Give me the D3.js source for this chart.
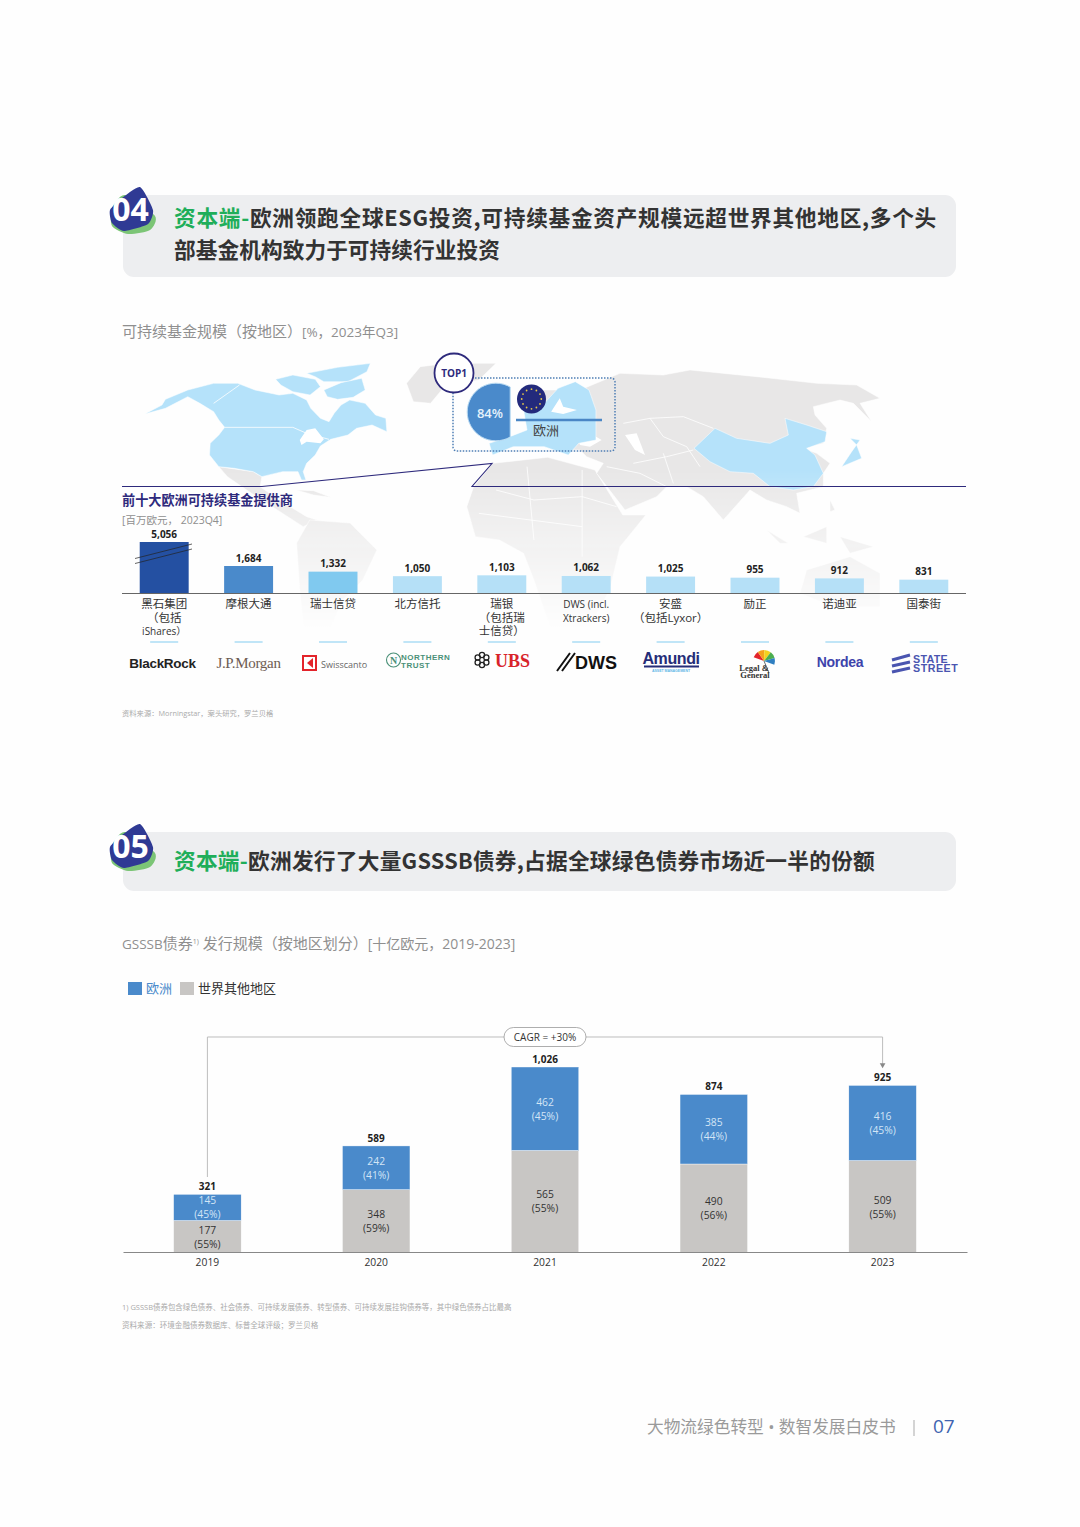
<!DOCTYPE html>
<html>
<head>
<meta charset="utf-8">
<script src="https://cdn.jsdelivr.net/npm/d3@7"></script>
<style>
    body { margin: 0; background: #fff; }
    text { font-family: "Open Sans", "Noto Sans CJK SC", sans-serif; }
</style>
</head>
<body>
<svg width="1080" height="1527"></svg>
<script>
// top chart
var providers = ['黑石集团', '摩根大通', '瑞士信贷', '北方信托', '瑞银', 'DWS', '安盛', '励正', '诺迪亚', '国泰街'];
var providerValues = [5056, 1684, 1332, 1050, 1103, 1062, 1025, 955, 912, 831];
var providerLabels = [
    ['黑石集团', '（包括', 'iShares）'], ['摩根大通'], ['瑞士信贷'], ['北方信托'],
    ['瑞银', '（包括瑞', '士信贷）'], ['DWS (incl.', 'Xtrackers)'], ['安盛', '（包括Lyxor）'],
    ['励正'], ['诺迪亚'], ['国泰街']
];
var providerColors = ['#2450a2', '#4a8acb', '#80c9ef', '#b5e0f7', '#b5e0f7', '#b5e0f7', '#b5e0f7', '#b5e0f7', '#b5e0f7', '#b5e0f7'];

// bottom chart
var years = ['2019', '2020', '2021', '2022', '2023'];
var europe = [145, 242, 462, 385, 416];
var europeShare = ['45%', '41%', '45%', '44%', '45%'];
var restOfWorld = [177, 348, 565, 490, 509];
var restShare = ['55%', '59%', '55%', '56%', '55%'];
var totals = [321, 589, 1026, 874, 925];

// map outlines in map units
var northAmerica = [[130,222],[180,195],[190,178],[255,150],[330,130],[400,130],[450,150],[520,165],[560,160],[600,180],[612,205],[640,235],[665,245],[680,220],[700,195],[725,180],[770,190],[800,225],[830,235],[833,275],[790,255],[745,265],[720,285],[670,298],[640,318],[625,345],[600,370],[590,395],[598,420],[585,420],[575,395],[530,395],[470,410],[445,395],[390,385],[345,380],[318,345],[320,310],[345,285],[362,262],[345,240],[330,215],[290,190],[255,170],[190,205]];
var arcticIslands = [
    [[510,118],[560,105],[625,118],[640,140],[610,165],[560,155],[525,135]],
    [[600,100],[690,82],[785,70],[775,95],[720,125],[650,125],[625,110]],
    [[650,150],[700,128],[760,115],[770,150],[735,172],[690,178],[660,170]]
];
var greatLakes = [[580,300],[600,270],[625,265],[650,298],[640,310],[600,305],[585,315]];
var mexico = [[345,380],[445,395],[470,410],[465,440],[520,480],[600,530],[630,540],[590,560],[500,500],[440,460],[370,410]];
var greenland = [[890,130],[930,80],[1010,70],[1150,70],[1100,120],[1000,140],[960,190],[910,185]];
var europeLand = [[1130,310],[1190,290],[1240,270],[1230,210],[1290,190],[1330,145],[1380,125],[1420,150],[1440,210],[1440,300],[1390,310],[1360,345],[1290,320],[1200,320],[1140,345]];
var baltic = [[1310,215],[1335,175],[1345,200],[1385,210],[1345,222]];
var africa = [[1085,440],[1140,370],[1300,352],[1437,390],[1518,525],[1585,525],[1545,576],[1510,620],[1480,750],[1400,900],[1320,900],[1260,720],[1230,640],[1160,600],[1090,590],[1065,500]];
var southAmerica = [[571,609],[609,540],[726,549],[804,630],[763,720],[705,780],[653,900],[595,900],[580,750]];
var cuba = [[570,450],[620,452],[670,472],[620,465]];
var eurasia = [[120,150],[240,100],[370,105],[450,90],[650,110],[830,130],[950,135],[1020,175],[960,190],[995,245],[940,190],[900,180],[820,200],[825,225],[860,265],[850,310],[790,325],[830,340],[870,370],[850,400],[850,440],[770,460],[780,520],[740,500],[680,480],[630,450],[550,540],[490,470],[440,440],[380,440],[350,470],[255,510],[170,400],[190,370],[140,350],[120,330],[60,330],[0,300],[0,150]];
var blackSea = [[115,295],[150,280],[185,300],[150,320],[120,315]];
var caspian = [[255,285],[290,280],[315,345],[285,330]];
var china = [[462,325],[525,265],[590,295],[690,310],[745,285],[735,235],[800,255],[860,275],[855,305],[800,325],[825,345],[850,400],[820,440],[760,450],[690,440],[640,400],[570,395],[510,365]];
var japan = [[905,380],[965,355],[950,315],[930,295],[960,300],[935,335]];
var islandsEast = [
    [[870,480],[885,510],[870,515]], [[680,570],[745,610],[720,610]], [[790,590],[860,560],[860,610]],
    [[900,590],[1000,620],[930,640]], [[800,690],[930,650],[1020,700],[1020,800],[880,800],[780,760]]
];
var landBorders = [
    [[1150,450],[1260,480],[1400,470],[1500,500]], [[1240,380],[1260,600]], [[1400,390],[1400,650]],
    [[1100,520],[1400,560]], [[362,262],[560,262],[600,280],[665,298]], [[330,190],[405,135]]
];
var asiaBorders = [
    [[330,235],[430,230],[520,265]], [[250,250],[330,235],[370,290],[440,320]], [[370,340],[400,430]],
    [[440,320],[480,380]], [[280,370],[380,350],[460,330]], [[200,380],[300,400],[380,440]]
];

var svg = d3.select('svg');
var NAVY = '#2e2a7c', GREY = '#8f8f8f', DARK = '#333';

svg.append('rect').attr('width', 1080).attr('height', 1527).attr('fill', '#fefefe');

// section header with the round number badge
function header(y, h, number, lines) {
    var g = svg.append('g');
    g.append('rect').attr('x', 123).attr('y', y).attr('width', 833).attr('height', h).attr('rx', 11).attr('fill', '#edeef0');
    var by = y + 15;
    g.append('path').attr('fill', '#7cc576')
        .attr('d', d3.line().curve(d3.curveCardinalClosed.tension(0.3))([[112, by - 2], [125, by - 15], [155, by + 6], [150, by + 20], [128, by + 24], [112, by + 16]]));
    g.append('path').attr('fill', '#2f3a94')
        .attr('d', d3.line().curve(d3.curveCardinalClosed.tension(0.4))([[110, by], [122, by - 12], [140, by - 23], [153, by], [148, by + 14], [124, by + 21], [112, by + 13]]));
    g.append('text').attr('x', 130.5).attr('y', by + 11).attr('text-anchor', 'middle')
        .attr('font-size', 32).attr('font-weight', 700).attr('fill', '#fff').text(number);
    lines.forEach(function(l, i) {
        var t = g.append('text').attr('x', 174).attr('y', y + 31 + i * 32 + (lines.length == 1 ? 6 : 0))
            .attr('font-size', 21.7).attr('font-weight', 700).attr('fill', '#333')
            .style('font-family', '"Noto Sans CJK SC"');
        if (i == 0) t.append('tspan').attr('fill', '#1fae5a').text('资本端-');
        t.append('tspan').text(i == 0 ? l.text.replace('资本端-', '') : l.text);
        // narrow commas in the original, so share the spare room over the line
        var spare = l.width - t.node().getComputedTextLength();
        t.attr('letter-spacing', spare / l.text.length);
    });
}
header(195, 82, '04', [{text: '资本端-欧洲领跑全球ESG投资,可持续基金资产规模远超世界其他地区,多个头', width: 763}, {text: '部基金机构致力于可持续行业投资', width: 326}]);
header(832, 59, '05', [{text: '资本端-欧洲发行了大量GSSSB债券,占据全球绿色债券市场近一半的份额', width: 701}]);

var sub1 = svg.append('text').attr('x', 122).attr('y', 337).attr('font-size', 15).attr('fill', GREY);
sub1.append('tspan').text('可持续基金规模（按地区）');
sub1.append('tspan').attr('font-size', 13.5).text('[%，2023年Q3]');

// ---------------- world map
var defs = svg.append('defs');
var fade = defs.append('linearGradient').attr('id', 'fade')
    .attr('gradientUnits', 'userSpaceOnUse').attr('x1', 0).attr('x2', 0).attr('y1', 470).attr('y2', 630);
fade.append('stop').attr('offset', 0).attr('stop-color', '#fff');
fade.append('stop').attr('offset', 0.45).attr('stop-color', '#888');
fade.append('stop').attr('offset', 1).attr('stop-color', '#000');
defs.append('mask').attr('id', 'mapFade').attr('maskUnits', 'userSpaceOnUse')
    .attr('x', 0).attr('y', 0).attr('width', 1080).attr('height', 1527)
    .append('rect').attr('width', 1080).attr('height', 700).attr('fill', 'url(#fade)');

var westX = d3.scaleLinear().domain([0, 1568]).range([100, 640]);
var eastX = d3.scaleLinear().domain([0, 1320]).range([540, 980]);
var mapY = d3.scaleLinear().domain([0, 600]).range([340, 540]);
var westLine = d3.line().x(d => westX(d[0])).y(d => mapY(d[1]));
var eastLine = d3.line().x(d => eastX(d[0])).y(d => mapY(d[1]));

var map = svg.append('g').attr('mask', 'url(#mapFade)');
var LAND = '#e8e7e7', BLUE_LAND = '#b5e2fa';
function land(line, pts, color) {
    map.append('path').attr('d', line(pts) + 'Z').attr('fill', color).attr('stroke', color == '#fff' ? 'none' : '#fff').attr('stroke-width', 0.5);
}
land(westLine, greenland, LAND);
land(westLine, mexico, LAND);
land(westLine, cuba, LAND);
land(westLine, southAmerica, LAND);
land(westLine, africa, LAND);
land(eastLine, eurasia, LAND);
islandsEast.forEach(d => land(eastLine, d, LAND));
land(eastLine, blackSea, '#fff');
land(eastLine, caspian, '#fff');
land(westLine, northAmerica, BLUE_LAND);
arcticIslands.forEach(d => land(westLine, d, BLUE_LAND));
land(westLine, greatLakes, '#fff');
land(westLine, europeLand, BLUE_LAND);
land(westLine, baltic, '#fff');
land(eastLine, china, BLUE_LAND);
land(eastLine, japan, BLUE_LAND);
landBorders.forEach(d => map.append('path').attr('d', westLine(d)).attr('fill', 'none').attr('stroke', '#fff').attr('stroke-width', 0.8));
asiaBorders.forEach(d => map.append('path').attr('d', eastLine(d)).attr('fill', 'none').attr('stroke', '#fff').attr('stroke-width', 0.8));

// europe callout
svg.append('rect').attr('x', 453).attr('y', 378).attr('width', 162).attr('height', 73).attr('rx', 4)
    .attr('fill', 'none').attr('stroke', '#4f7fb5').attr('stroke-width', 1.5).attr('stroke-dasharray', '1.5 1.5');
var seg = d3.path();
seg.arc(496, 412, 28.8, -1.055, 1.055, true);
seg.closePath();
svg.append('path').attr('d', seg.toString()).attr('fill', '#4a8acb').attr('stroke', '#bcdcf3').attr('stroke-width', 1);
svg.append('text').attr('x', 490).attr('y', 418).attr('text-anchor', 'middle').attr('font-size', 13).attr('font-weight', 600).attr('fill', '#e6f2fb').text('84%');
svg.append('circle').attr('cx', 531.5).attr('cy', 399).attr('r', 14.5).attr('fill', '#232a7c');
d3.range(12).forEach(function(i) {
    var a = i * Math.PI / 6;
    svg.append('circle').attr('cx', 531.5 + 9.8 * Math.cos(a)).attr('cy', 399 + 9.8 * Math.sin(a)).attr('r', 0.9).attr('fill', '#e6c84a');
});
svg.append('line').attr('x1', 516).attr('x2', 602).attr('y1', 420).attr('y2', 420).attr('stroke', '#4a86c5').attr('stroke-width', 2.5);
svg.append('text').attr('x', 546).attr('y', 435).attr('text-anchor', 'middle').attr('font-size', 13).attr('fill', '#444').text('欧洲');
svg.append('circle').attr('cx', 454).attr('cy', 373).attr('r', 19.5).attr('fill', '#fff').attr('stroke', NAVY).attr('stroke-width', 1.8);
svg.append('text').attr('x', 454).attr('y', 377).attr('text-anchor', 'middle').attr('font-size', 10).attr('font-weight', 700).attr('fill', NAVY).text('TOP1');

svg.append('path').attr('d', 'M122,486.5H262L492,463.5L472,486.5H966').attr('fill', 'none').attr('stroke', NAVY).attr('stroke-width', 1.1);
svg.append('text').attr('x', 122).attr('y', 505).attr('font-size', 13.15).attr('font-weight', 700).attr('fill', NAVY).text('前十大欧洲可持续基金提供商');
svg.append('text').attr('x', 122).attr('y', 524).attr('font-size', 10.5).attr('fill', GREY).text('[百万欧元， 2023Q4]');

// ---------------- provider bars (first bar sits on a broken axis)
var xProv = d3.scaleBand().domain(providers).range([122, 966]).paddingInner(0.42).paddingOuter(0.21);
var yProv = d3.scaleLinear().domain([0, 1684, 5056]).range([593, 566, 542]);

svg.append('g').selectAll('rect').data(providerValues).join('rect')
    .attr('x', (d, i) => xProv(providers[i]))
    .attr('y', d => yProv(d))
    .attr('width', xProv.bandwidth())
    .attr('height', d => yProv(0) - yProv(d))
    .attr('fill', (d, i) => providerColors[i]);

svg.append('g').selectAll('text').data(providerValues).join('text')
    .attr('x', (d, i) => xProv(providers[i]) + xProv.bandwidth() / 2)
    .attr('y', d => yProv(d) - 4.5)
    .attr('text-anchor', 'middle').attr('font-size', 10).attr('font-weight', 700).attr('fill', '#222')
    .text(d => d3.format(',')(d));

svg.append('line').attr('x1', 122).attr('x2', 966).attr('y1', 593.5).attr('y2', 593.5).attr('stroke', '#666').attr('stroke-width', 1);

[0, 5].forEach(function(off) {
    svg.append('line').attr('x1', 135).attr('x2', 192).attr('y1', 558.5 + off).attr('y2', 544 + off).attr('stroke', '#222').attr('stroke-width', 0.7);
});

providers.forEach(function(p, i) {
    var cx = xProv(p) + xProv.bandwidth() / 2;
    providerLabels[i].forEach(function(line, j) {
        svg.append('text').attr('x', cx).attr('y', 608 + j * 13.7).attr('text-anchor', 'middle')
            .attr('font-size', /^[A-Za-z]/.test(line) ? 10 : 11.5).attr('fill', '#333').text(line);
    });
    svg.append('line').attr('x1', cx - 14).attr('x2', cx + 14).attr('y1', 642).attr('y2', 642).attr('stroke', '#95d3f1').attr('stroke-width', 1.2);
});

// logos, set as type
var logo = svg.append('g');
function logoText(x, y, str, size, color, weight, family, anchor, spacing) {
    return logo.append('text').attr('x', x).attr('y', y).attr('font-size', size).attr('fill', color)
        .attr('font-weight', weight || 400).attr('text-anchor', anchor || 'start')
        .style('font-family', family || 'Liberation Sans').attr('letter-spacing', spacing || 0).text(str);
}
logoText(162.5, 668, 'BlackRock', 13.5, '#222', 700, null, 'middle', -0.3);
logoText(248.5, 668, 'J.P.Morgan', 15, '#6e5c52', 400, 'Liberation Serif', 'middle', -0.3);
logo.append('rect').attr('x', 302).attr('y', 655).attr('width', 15).attr('height', 16).attr('fill', '#e3242b');
logo.append('rect').attr('x', 304).attr('y', 657).attr('width', 11).attr('height', 12).attr('fill', '#fff');
logo.append('path').attr('d', 'M313,658L307,663L313,668Z').attr('fill', '#e3242b');
logoText(321, 668, 'Swisscanto', 9, '#666', 400, 'Open Sans');
logo.append('circle').attr('cx', 393.5).attr('cy', 660).attr('r', 7).attr('fill', 'none').attr('stroke', '#4a9078').attr('stroke-width', 1.1);
logoText(393.5, 664, 'N', 10, '#4a9078', 700, 'Liberation Serif', 'middle');
logoText(401, 660, 'NORTHERN', 8, '#4a9078', 700, null, 'start', 0.5);
logoText(401, 667.5, 'TRUST', 8, '#4a9078', 700, null, 'start', 0.5);
d3.range(6).forEach(function(i) {
    var a = i * Math.PI / 3 + Math.PI / 6;
    logo.append('circle').attr('cx', 482 + 5 * Math.cos(a)).attr('cy', 660 + 5 * Math.sin(a)).attr('r', 2.6)
        .attr('fill', 'none').attr('stroke', '#222').attr('stroke-width', 1.3);
});
logoText(495, 667, 'UBS', 18, '#d8232a', 700, 'Liberation Serif');
logo.append('path').attr('d', 'M557,671L570,653M562,671L575,653').attr('stroke', '#111').attr('stroke-width', 2);
logoText(575, 669, 'DWS', 18, '#111', 700);
logoText(671, 664, 'Amundi', 16, '#252d78', 700, null, 'middle', -0.4);
logo.append('rect').attr('x', 644).attr('y', 665.5).attr('width', 55).attr('height', 2).attr('fill', '#252d78');
logoText(671, 672, 'ASSET MANAGEMENT', 3.5, '#5fb6e6', 700, null, 'middle');
var umbrella = d3.arc().innerRadius(0).outerRadius(11);
['#e3242b', '#f4a11d', '#f4d21f', '#4cae4f', '#2f7fc1'].forEach(function(c, i) {
    logo.append('path').attr('transform', 'translate(764,661) rotate(20)')
        .attr('d', umbrella({startAngle: -Math.PI / 2 + i * Math.PI / 5, endAngle: -Math.PI / 2 + (i + 1) * Math.PI / 5}))
        .attr('fill', c);
});
logo.append('line').attr('x1', 764).attr('x2', 769).attr('y1', 661).attr('y2', 673).attr('stroke', '#333').attr('stroke-width', 0.7);
logoText(754, 671, 'Legal &', 8.5, '#333', 700, 'Liberation Serif', 'middle');
logoText(755, 678, 'General', 8.5, '#333', 700, 'Liberation Serif', 'middle');
logoText(840, 666.5, 'Nordea', 14, '#3d43ab', 700, null, 'middle', -0.3);
logo.append('path').attr('d', 'M892,660L910,655M892,666L910,662M892,672L910,668').attr('stroke', '#4a55b0').attr('stroke-width', 3).attr('fill', 'none');
logoText(913, 662.5, 'STATE', 10.7, '#4a55b0', 700, null, 'start', 0.3);
logoText(913, 671.5, 'STREET', 10.7, '#4a55b0', 700, null, 'start', 0.5);

svg.append('text').attr('x', 122).attr('y', 716).attr('font-size', 7.3).attr('fill', '#aaa').text('资料来源：Morningstar，案头研究，罗兰贝格');

// ---------------- GSSSB chart
var sub = svg.append('text').attr('x', 122).attr('y', 949).attr('font-size', 15).attr('fill', GREY);
sub.append('tspan').attr('font-size', 13.5).text('GSSSB');
sub.append('tspan').text('债券');
sub.append('tspan').attr('font-size', 7).attr('dy', -5).text('1)');
sub.append('tspan').attr('dy', 5).text(' 发行规模（按地区划分）');
sub.append('tspan').attr('font-size', 14).text('[十亿欧元，2019-2023]');

svg.append('rect').attr('x', 128).attr('y', 982).attr('width', 14).attr('height', 13).attr('fill', '#4a8acb');
svg.append('text').attr('x', 146).attr('y', 993).attr('font-size', 13).attr('fill', '#4a8acb').text('欧洲');
svg.append('rect').attr('x', 180).attr('y', 982).attr('width', 14).attr('height', 13).attr('fill', '#c8c6c4');
svg.append('text').attr('x', 198).attr('y', 993).attr('font-size', 13).attr('fill', '#333').text('世界其他地区');

var rows = years.map((y, i) => ({year: y, rest: restOfWorld[i], europe: europe[i]}));
var stack = d3.stack().keys(['rest', 'europe'])(rows);

var xYear = d3.scaleBand().domain(years).range([123, 967]).paddingInner(0.6).paddingOuter(0.3);
var yBond = d3.scaleLinear().domain([0, 1027]).range([1252.5, 1067]);
var bondColor = d3.scaleOrdinal().domain(['rest', 'europe']).range(['#c8c6c4', '#4a8acb']);

// CAGR bracket
var cx0 = xYear(years[0]) + xYear.bandwidth() / 2, cx4 = xYear(years[4]) + xYear.bandwidth() / 2;
svg.append('path').attr('d', `M${cx0},1177V1037H${cx4}V1064`).attr('fill', 'none').attr('stroke', '#bdbdbd').attr('stroke-width', 1);
svg.append('path').attr('d', d3.symbol(d3.symbolTriangle, 14)()).attr('transform', `translate(${cx4},1065) rotate(180)`).attr('fill', '#888');
svg.append('rect').attr('x', 504).attr('y', 1027.5).attr('width', 82).attr('height', 19).attr('rx', 9.5).attr('fill', '#fff').attr('stroke', '#999').attr('stroke-width', 0.8);
svg.append('text').attr('x', 545).attr('y', 1040.5).attr('text-anchor', 'middle').attr('font-size', 10).attr('fill', '#333').text('CAGR = +30%');

var layer = svg.append('g').selectAll('g').data(stack).join('g').attr('fill', d => bondColor(d.key));
layer.selectAll('rect').data(d => d).join('rect')
    .attr('x', d => xYear(d.data.year))
    .attr('y', d => yBond(d[1]))
    .attr('width', xYear.bandwidth())
    .attr('height', d => yBond(d[0]) - yBond(d[1]))
    .attr('stroke', '#fff').attr('stroke-width', 0.4);

stack.forEach(function(s) {
    var isEu = s.key == 'europe';
    s.forEach(function(d, i) {
        var cx = xYear(d.data.year) + xYear.bandwidth() / 2;
        var mid = (yBond(d[0]) + yBond(d[1])) / 2;
        var color = isEu ? '#d3e5f6' : '#333';
        svg.append('text').attr('x', cx).attr('y', mid - 3).attr('text-anchor', 'middle').attr('font-size', 10.3).attr('fill', color)
            .text(isEu ? europe[i] : restOfWorld[i]);
        svg.append('text').attr('x', cx).attr('y', mid + 11).attr('text-anchor', 'middle').attr('font-size', 10.3).attr('fill', color)
            .text('(' + (isEu ? europeShare[i] : restShare[i]) + ')');
    });
});

svg.append('g').selectAll('text').data(totals).join('text')
    .attr('x', (d, i) => xYear(years[i]) + xYear.bandwidth() / 2)
    .attr('y', d => yBond(d) - 4.5)
    .attr('text-anchor', 'middle').attr('font-size', 10).attr('font-weight', 700).attr('fill', '#222')
    .text(d => d3.format(',')(d));

var xAxis = d3.axisBottom(xYear).tickSize(0).tickPadding(7);
var axisG = svg.append('g').attr('transform', 'translate(0,1252)').call(xAxis);
axisG.select('.domain').attr('stroke', '#888').attr('stroke-width', 1);
axisG.selectAll('text').attr('font-size', 10.3).attr('fill', '#333').style('font-family', '"Open Sans"');

svg.append('text').attr('x', 122).attr('y', 1310).attr('font-size', 7.47).attr('fill', '#aaa')
    .text('1) GSSSB债券包含绿色债券、社会债券、可持续发展债券、转型债券、可持续发展挂钩债券等，其中绿色债券占比最高');
svg.append('text').attr('x', 122).attr('y', 1328).attr('font-size', 7.55).attr('fill', '#aaa')
    .text('资料来源：环境金融债券数据库、标普全球评级；罗兰贝格');

// page footer
svg.append('text').attr('x', 647).attr('y', 1433).attr('font-size', 16.7).attr('fill', '#9a9a9a').text('大物流绿色转型 • 数智发展白皮书');
svg.append('line').attr('x1', 914).attr('x2', 914).attr('y1', 1420).attr('y2', 1436).attr('stroke', '#aaa').attr('stroke-width', 1);
svg.append('text').attr('x', 933).attr('y', 1433).attr('font-size', 19).attr('fill', '#3f63b0').text('07');
</script>
</body>
</html>
